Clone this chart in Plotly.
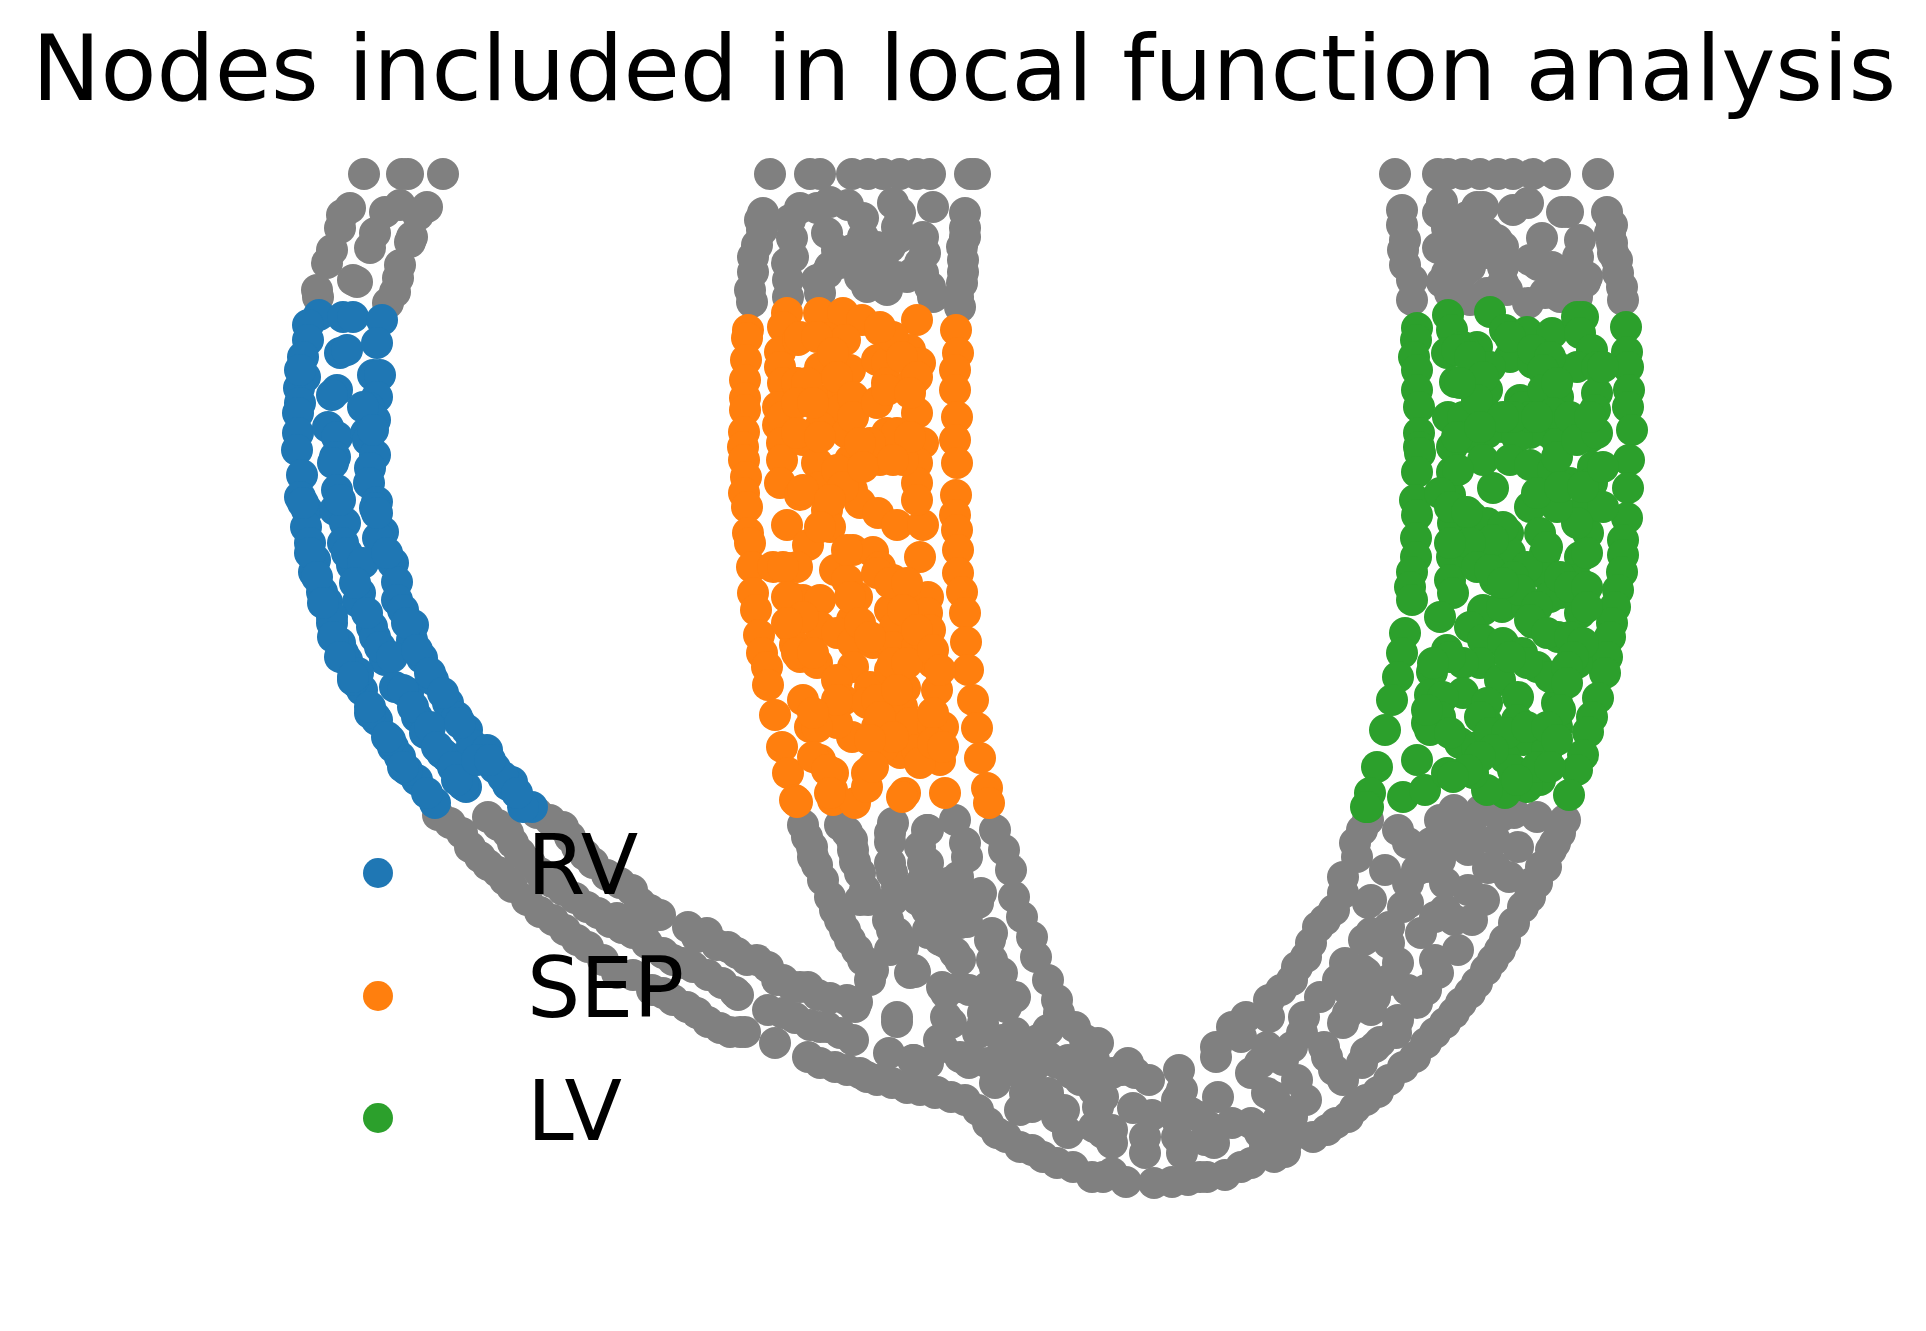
import plotly.graph_objects as go

TITLE = "Nodes included in local function analysis"
LEGEND_LABELS = ["RV", "SEP", "LV"]
COLORS = ["#1f77b4", "#ff7f0e", "#2ca02c"]
GRAY = "#808080"

RV = [(319,315),(308,325),(308,340),(303,357),(305,377),(299,388),(300,403),(298,413),(298,433),(297,450),
(302,475),(300,497),(307,510),(306,527),(310,543),(315,560),(314,572),(322,592),(327,602),(332,623),(340,643),(347,660),(357,683),(362,690),(375,717),(377,720),(393,747),(400,757),(417,780),(435,803),
(343,317),(353,317),(340,353),(347,350),(337,390),(332,395),(328,427),(337,437),(335,457),
(333,463),(337,490),(335,510),(345,523),(343,543),(352,565),(360,593),(358,602),(372,627),(375,637),(385,660),(395,687),(408,693),(417,717),(425,733),(442,753),(447,757),(466,787),(463,785),
(382,320),(377,343),(373,375),(380,375),(377,397),(369,408),(375,420),(366,433),(368,440),(375,455),
(370,468),(369,483),(377,502),(375,508),(383,532),(378,538),(393,563),(397,582),(397,600),(403,610),(413,625),(412,640),(422,658),(433,680),(448,703),(457,717),(467,730),(472,745),(487,750),(495,768),(512,782),(508,785),(532,807),(523,807),
(340,500),(347,553),(363,563),(355,583),(367,613),(380,647),(392,657),(403,690),(413,707),(430,727),(437,747),(453,767),(457,780),
(332,617),(343,653),(358,673),(370,713),(390,740),(407,770),(427,793),(353,680),
(377,513),(387,553),(407,623),(417,650),(430,673),(443,693),(460,723),(503,777),(517,793),(477,760),(490,760),
(303,503),(310,553),(317,577),(323,603),(333,637),(340,657),(353,677),(370,707),(387,737),(403,767),(363,407),(373,430),(300,370)]

SEP = [(748,330),(747,338),(746,360),(745,380),(745,398),(745,410),(744,432),(743,447),
(744,460),(746,477),(744,493),(747,507),(748,533),(750,543),(752,567),(753,593),(756,610),(759,635),(762,653),(767,667),(768,685),(775,715),(782,747),(788,773),(795,800),(797,802),
(787,313),(783,327),(780,352),(780,367),(783,383),(778,407),(778,425),(783,417),(782,443),
(782,460),(780,483),(787,525),(788,568),(792,598),(790,627),(795,645),(800,657),(803,700),(810,727),(820,760),(832,790),(833,800),(855,803),
(819,313),(843,313),(862,320),(880,330),(798,340),(827,338),(845,340),(820,368),(850,370),(877,360),(887,363),(887,383),(877,402),(797,383),(820,400),(843,393),(840,410),(820,427),(847,433),(803,440),(887,433),(880,445),(917,320),(910,350),(920,363),(912,383),(917,413),(923,443),(897,433),
(956,330),(958,353),(955,370),(955,390),(957,417),(955,440),
(957,463),(956,495),(955,515),(957,530),(958,550),(958,573),(962,592),(965,613),(966,642),(968,670),(973,700),(977,728),(980,758),(987,788),(989,803),
(817,463),(820,487),(800,495),(827,510),(830,527),(808,545),(853,550),(873,552),(835,570),(847,580),(857,597),(803,600),(820,600),(852,620),(820,627),(837,633),(890,610),(895,627),(853,643),(873,643),(893,647),(817,663),(853,667),(870,687),(837,680),(843,700),(867,703),(890,670),(905,688),(902,707),(877,727),(910,723),(933,727),(943,727),(900,753),(917,750),(940,760),(920,763),(852,737),(837,723),(817,727),(867,773),(833,773),(905,793),(902,797),(945,793),(883,747),
(850,460),(847,473),(852,490),(860,503),(878,513),(897,525),(923,525),(920,557),(917,463),(917,483),(917,500),(880,460),(903,460),
(893,580),(907,593),(928,597),(927,613),(930,630),(933,663),(937,690),(917,647),(880,567),
(800,337),(817,337),(833,353),(807,383),(837,377),(797,403),(813,403),(853,397),(797,433),(820,437),(853,417),(893,337),(902,357),(880,327),(877,403),(887,390),(917,377),(910,393),(870,443),(910,437),(860,443),
(803,490),(837,470),(843,487),(863,467),(893,460),(830,500),(820,527),(847,550),(797,567),(773,567),(783,567),(877,573),(890,583),(907,583),(787,597),(803,617),(787,623),(797,653),(813,653),(850,597),(860,623),(903,610),(917,630),(870,637),(893,663),(907,663),(877,700),(837,700),(813,713),(880,717),(893,737),(870,740),(933,713),(933,743),(943,747),(813,757),(827,770),(830,793),(867,787),(873,767),(933,650),(940,670),(897,690)]

LV = [(1417,328),(1416,340),(1414,357),(1417,370),(1417,390),(1419,407),(1419,433),(1419,447),
(1420,453),(1417,472),(1415,500),(1417,515),(1416,538),(1416,557),(1412,572),(1410,587),(1412,600),(1405,633),(1402,653),(1398,677),(1392,700),(1385,730),(1377,767),(1370,793),(1368,807),(1366,807),
(1403,797),(1425,790),(1447,773),
(1626,327),(1627,352),(1628,367),(1629,390),(1628,407),(1632,430),
(1629,460),(1628,488),(1627,518),(1623,540),(1623,555),(1622,572),(1618,590),(1615,607),(1612,623),(1610,637),(1607,657),(1605,673),(1598,698),(1592,717),(1588,732),(1583,755),(1577,770),(1569,795),
(1448,315),(1452,330),(1447,353),(1455,382),(1448,417),(1463,417),(1452,447),
(1452,472),(1450,495),(1453,523),(1452,557),(1450,580),(1453,593),(1440,617),(1447,650),(1432,672),(1430,695),(1427,723),(1417,760),
(1490,312),(1505,330),(1527,332),(1552,333),(1583,317),(1577,317),(1580,333),(1592,350),(1477,347),(1463,347),(1510,357),(1490,367),(1533,363),(1557,367),(1577,367),(1597,367),(1487,390),(1520,400),(1487,413),(1558,397),(1597,393),(1595,410),(1563,417),(1550,433),(1590,437),(1503,427),(1487,433),(1530,433),(1558,443),(1470,437),(1517,437),
(1493,488),(1483,460),(1510,460),(1530,465),(1553,470),(1570,483),(1593,467),(1592,483),(1597,505),(1557,457),(1530,507),(1540,533),(1545,553),(1543,573),(1588,533),(1580,557),(1577,580),(1585,590),(1580,613),(1560,593),(1550,597),
(1472,517),(1487,523),(1508,533),(1510,553),(1483,557),(1527,567),(1495,580),(1510,590),(1483,610),(1502,607),(1527,607),(1470,627),(1483,640),(1503,643),(1533,623),(1558,637),(1577,643),(1577,663),(1563,677),(1537,667),(1522,653),(1480,663),(1463,663),(1500,680),(1518,697),(1463,693),(1557,703),(1557,727),(1517,720),(1487,703),(1487,723),(1443,697),(1440,717),(1460,743),(1477,747),(1523,740),(1505,758),(1547,750),(1540,780),(1527,787),(1505,793),(1487,790),(1473,773),(1513,770),
(1510,337),(1533,350),(1550,357),(1603,367),(1543,370),(1457,350),(1470,357),(1483,377),(1477,400),(1460,383),(1523,407),(1543,390),(1557,383),(1553,413),(1570,417),(1530,417),(1513,417),(1503,417),(1457,437),(1480,427),(1537,417),(1577,440),(1597,433),(1590,417),
(1458,470),(1440,493),(1450,507),(1467,512),(1503,527),(1493,540),(1470,543),(1450,543),(1477,567),(1490,570),(1513,577),(1520,590),(1503,583),(1560,577),(1570,587),(1587,587),(1587,607),(1537,607),(1530,620),(1547,633),(1570,637),(1583,643),(1573,657),(1550,677),(1567,667),(1527,663),(1510,657),(1450,657),(1433,663),(1567,683),(1560,710),(1480,717),(1430,730),(1450,733),(1490,733),(1507,733),(1527,727),(1547,727),(1557,740),(1493,750),(1480,757),(1467,770),(1537,767),(1517,780),(1550,767),(1427,710),(1453,777),
(1547,547),(1587,553),(1583,510),(1603,507),(1577,523),(1557,507),(1537,493),(1560,487),(1583,487),(1603,467)]

OTHER = [(364,174),(402,174),(408,174),(443,174),(350,208),(342,215),(340,228),(332,250),(327,263),(317,290),(318,297),
(385,212),(400,205),(375,233),(370,248),(357,282),(353,280),(427,207),(418,215),(412,237),(410,242),(400,265),(398,278),(395,292),(388,303),
(770,174),(810,174),(820,174),(852,174),(868,174),(883,174),(900,174),(917,174),(930,174),(970,174),(975,174),
(763,213),(760,220),(757,245),(753,272),(752,302),(800,208),(792,238),(788,280),(793,257),(788,297),
(830,202),(848,205),(863,218),(827,233),(837,250),(852,250),(827,273),(820,293),(867,250),(883,257),(880,273),(867,287),(887,290),(893,203),(897,227),(890,247),(933,207),(923,237),(925,253),(913,273),(930,287),(933,297),(965,213),(965,228),(962,247),(963,272),(958,297),(960,307),
(753,257),(750,290),(762,230),(790,220),(787,263),(817,208),(863,237),(877,247),(900,237),(900,213),(880,283),(897,277),(907,277),(830,267),(817,280),(840,263),(860,277),(920,263),(923,273),(963,260),(962,283),(965,237),
(1395,174),(1438,174),(1448,174),(1463,174),(1480,174),(1498,174),(1513,174),(1533,174),(1555,174),(1598,174),
(1402,210),(1402,225),(1405,240),(1405,265),(1412,280),(1412,300),
(1442,202),(1438,213),(1447,228),(1438,248),(1457,247),(1477,207),(1483,207),(1467,217),(1470,237),(1442,282),(1463,273),(1450,293),(1470,300),
(1497,240),(1503,247),(1487,253),(1503,267),(1503,283),(1493,293),(1513,210),(1528,203),(1542,238),(1538,265),(1552,267),(1528,303),(1545,293),(1562,212),(1568,212),(1580,240),(1578,257),(1570,277),(1585,282),(1560,297),(1578,290),
(1607,212),(1612,225),(1612,243),(1617,260),(1622,287),(1623,300),
(1403,250),(1447,273),(1470,267),(1487,233),(1507,290),(1530,260),(1557,283),(1587,277),(1577,297),(1463,297),(1487,293),(1610,233),(1613,253),(1618,273),
(438,815),(462,833),(480,857),(498,872),(512,887),(540,912),(565,930),(588,947),(617,973),(633,975),(652,990),(673,1000),(697,1013),(720,1028),(740,1032),(745,1032),
(488,817),(508,833),(520,853),(540,873),(563,890),(587,907),(610,922),(633,933),(673,960),(693,967),(708,975),(735,992),(738,995),
(537,813),(563,827),(577,847),(593,863),(607,875),(632,890),(640,903),(660,915),(617,918),(643,927),
(450,823),(470,847),(488,865),(505,880),(527,900),(553,920),(577,940),(603,960),(663,993),(687,1007),(708,1022),(730,1032),
(498,825),(513,843),(530,863),(552,882),(575,898),(598,913),(622,928),(647,943),(663,953),(683,963),(722,983),
(550,820),(570,837),(585,855),(620,883),(650,910),(707,933),(737,953),(757,960),(783,980),(800,987),(830,998),(783,1013),(820,1027),(840,1033),(820,1063),(847,1070),(867,1077),(892,1083),(920,1090),
(688,927),(697,937),(717,945),(728,947),(747,960),(768,967),(777,980),(793,987),(808,987),(818,995),(847,1000),(855,1007),
(768,1010),(795,1018),(810,1025),(827,1027),(853,1040),(775,1043),(808,1057),(835,1067),(860,1073),(877,1080),(907,1088),(937,1092),(889,1053),(913,1060),(927,1063),(897,1017),(897,1022),
(803,825),(812,847),(817,865),(830,897),(840,920),(850,940),(863,960),(870,980),(857,1002),
(807,837),(813,857),(823,880),(835,910),(845,930),(857,950),(873,970),(847,832),(853,850),(865,890),(860,900),(890,833),(892,873),(892,930),(903,947),(910,973),(920,847),
(840,825),(852,840),(855,862),(860,873),(868,900),
(893,823),(890,842),(890,863),(897,887),(893,900),(888,920),(897,933),(890,950),(915,972),(927,830),(923,863),(923,880),(920,897),(927,910),(928,930),(940,940),
(995,830),(1004,850),(1011,870),(1014,897),(1022,917),(1032,937),(1036,957),(1048,980),(1057,1000),(1059,1013),
(955,820),(928,830),(965,843),(967,857),(928,863),(923,880),(958,877),(981,893),(923,903),(960,903),(967,922),(990,940),(928,933),(946,943),(960,960),(995,968),(914,970),(946,993),(969,990),(988,987),(1015,997),(1006,1007),(951,1023),(983,1023),(942,1047),(969,1057),(1015,1033),(1048,1030),(1075,1027),(1098,1043),(1094,1060),(1128,1063),(1149,1080),(1122,1070),(1179,1070),(1182,1090),
(914,1060),(928,1063),(909,1087),(935,1093),(965,1100),(988,1123),(1006,1137),(1032,1150),(1057,1163),(1092,1177),(1112,1173),(1126,1182),(1154,1183),(1172,1182),(1188,1180),(1207,1177),(1225,1175),(1251,1163),(1274,1157),(1285,1152),(1313,1137),(1336,1123),(1355,1108),(1378,1092),(1403,1067),(1426,1043),(1445,1023),(1461,1003),(1477,983),(1493,960),(1505,940),(1523,907),(1537,883),(1555,843),(1565,820),
(951,1097),(978,1110),(997,1133),(1020,1147),(1043,1157),(1073,1167),(1103,1177),(1327,1130),(1348,1117),(1366,1100),(1389,1080),(1415,1057),(1435,1033),(1454,1013),(1470,993),(1486,970),(1500,950),(1514,923),(1530,897),(1546,867),(1560,833),
(969,1063),(995,1083),(1015,1057),(1025,1070),(1032,1107),(1048,1093),(1064,1110),(1068,1133),(1057,1063),(1071,1073),(1094,1090),(1098,1107),(1103,1133),(1112,1143),(1133,1108),(1152,1115),(1145,1137),(1145,1153),
(1177,1100),(1191,1113),(1177,1137),(1182,1153),(1214,1143),(1209,1127),(1218,1097),(1232,1123),(1251,1123),(1278,1120),(1274,1137),(1251,1073),(1267,1093),(1283,1110),
(948,883),(918,900),(937,907),(978,903),(960,923),(992,933),(942,933),(955,953),(992,960),(1002,973),(960,987),(942,987),(1006,993),(983,1013),(946,1017),(939,1040),(978,1033),(960,1057),(988,1063),(1002,1040),(1015,1043),(1038,1040),(1048,1057),(1034,1067),(1011,1070),(1068,1060),(1085,1040),(1094,1067),(1080,1080),(1112,1073),(1135,1073),(1103,1097),(1025,1093),(1020,1110),(1057,1117),(1094,1127),(1112,1130),(1177,1120),(1200,1117),(1205,1140),(1260,1133),(1241,1167),(1200,1177),(1292,1117),(1288,1140),(1265,1147),(1260,1063),(1274,1097),(1179,1097),
(1216,1057),(1216,1047),(1246,1017),(1269,1017),(1241,1037),(1267,1047),(1281,990),(1297,967),(1311,943),(1318,927),(1334,910),(1343,877),(1355,843),(1368,820),
(1362,830),(1357,857),(1343,893),(1325,920),(1306,957),(1292,980),(1269,1000),(1232,1027),
(1304,1017),(1292,1047),(1283,1060),(1306,1100),(1297,1080),(1320,997),(1348,990),(1345,963),(1362,970),(1364,940),(1371,933),(1368,903),(1327,1057),(1343,1080),(1343,1023),(1371,1010),(1366,1053),(1380,1042),(1398,1020),(1408,990),(1389,980),(1426,990),(1438,973),(1398,963),(1385,870),(1417,870),(1403,907),(1389,927),(1435,917),(1454,920),(1472,920),(1458,950),(1421,933),(1398,830),(1408,843),(1447,837),(1472,843),(1518,847),(1488,868),(1509,877),(1484,900),(1445,883),(1454,810),(1481,810),(1514,813),(1537,817),(1495,840),(1440,860),(1426,867),
(1371,900),(1338,980),(1302,1033),(1408,903),(1389,943),(1366,973),(1348,1013),(1324,1047),(1334,1070),
(1445,910),(1435,960),(1417,1003),(1396,1033),(1375,1047),(1362,1063),(1375,997),
(1468,850),(1495,867),(1468,890),(1431,843),(1408,883),(1472,820),(1500,817),(1440,820),(1551,850),(1541,867),(1532,883)]

LEGEND_X = [378, 378, 378]
LEGEND_Y = [873, 996, 1118]
LEGEND_TEXT_X = 530
LEGEND_TEXT_Y = [865, 988, 1111]

MARKER = 32
PAGE_INSET = 8

fig = go.Figure()
for pts, color, name in [(OTHER, GRAY, "other"), (RV, COLORS[0], "RV"), (SEP, COLORS[1], "SEP"), (LV, COLORS[2], "LV")]:
    fig.add_trace(go.Scatter(x=[p[0] for p in pts], y=[p[1] for p in pts], mode="markers", name=name,
                             marker=dict(color=color, size=MARKER, line=dict(width=0)), showlegend=False))
fig.add_trace(go.Scatter(x=LEGEND_X, y=LEGEND_Y, mode="markers", showlegend=False,
                         marker=dict(color=COLORS, size=30, line=dict(width=0))))
for label, y in zip(LEGEND_LABELS, LEGEND_TEXT_Y):
    fig.add_annotation(x=LEGEND_TEXT_X, y=y, text=label, showarrow=False, xanchor="left", yanchor="middle",
                       xshift=-5, font=dict(family="DejaVu Sans", size=84, color="black"))
fig.add_annotation(x=964, y=68, text=TITLE, showarrow=False, xanchor="center", yanchor="middle",
                   font=dict(family="DejaVu Sans", size=91.6, color="black"))
fig.update_layout(width=1926 - 2 * PAGE_INSET, height=1331 - 2 * PAGE_INSET, margin=dict(l=0, r=0, t=0, b=0),
                  paper_bgcolor="white", plot_bgcolor="white", showlegend=False,
                  xaxis=dict(visible=False, range=[PAGE_INSET, 1926 - PAGE_INSET]),
                  yaxis=dict(visible=False, range=[1331 - PAGE_INSET, PAGE_INSET]))
fig.write_html("out.html")
